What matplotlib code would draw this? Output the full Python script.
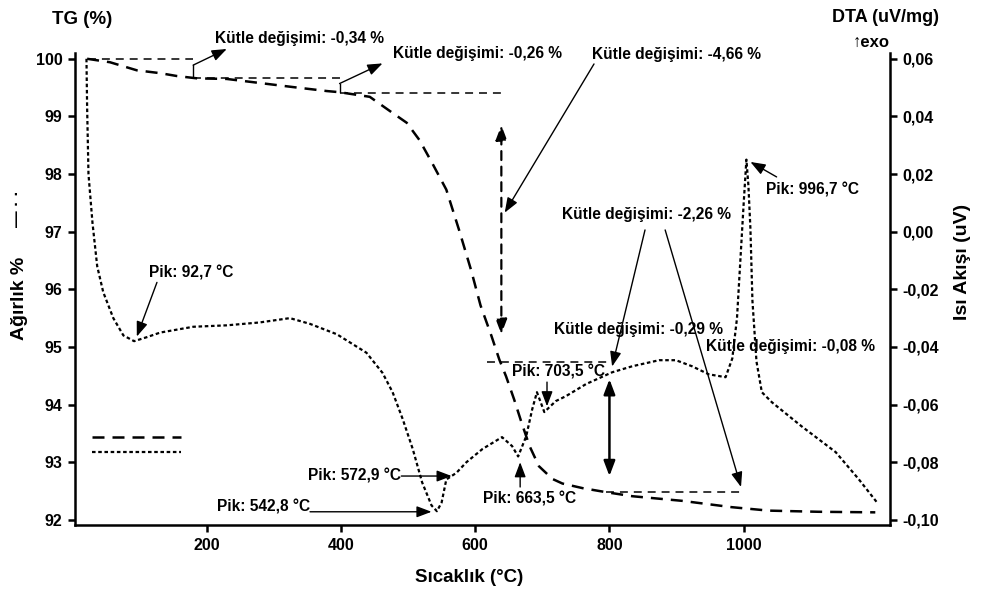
import matplotlib
matplotlib.use("Agg")
import matplotlib.pyplot as plt
from matplotlib.patches import ArrowStyle

plt.rcParams["font.family"] = ["Liberation Sans", "DejaVu Sans"]
plt.rcParams["font.weight"] = "bold"

# TG curve (left axis, %)
tg_temp = [22, 56, 96, 131, 156, 186, 230, 279, 328, 379, 398, 443, 477, 498, 517, 536, 557, 576, 594, 608,
           624, 636, 646, 658, 669, 681, 695, 715, 730, 760, 795, 834, 908, 982, 1037, 1111, 1196]
tg_mass = [100.0, 99.94, 99.80, 99.75, 99.70, 99.66, 99.65, 99.58, 99.51, 99.44, 99.42, 99.34, 99.06, 98.89,
           98.59, 98.19, 97.73, 97.03, 96.33, 95.72, 95.20, 94.78, 94.49, 94.09, 93.69, 93.28, 92.93, 92.71,
           92.63, 92.55, 92.48, 92.41, 92.33, 92.22, 92.16, 92.14, 92.13]

# DTA curve (right axis, uV/mg)
dta_temp = [21, 22, 24, 30, 37, 46, 61, 76, 92, 111, 131, 180, 230, 279, 324, 354, 394, 438, 462, 477,
            492, 507, 521, 535, 543, 550, 557, 572, 587, 611, 640, 655, 664, 676, 685, 692, 703, 720, 735, 765,
            804, 834, 874, 899, 923, 948, 973, 983, 990, 995, 1000, 1004, 1007, 1010, 1013, 1019, 1027, 1042,
            1086, 1137, 1171, 1198]
dta_signal = [0.060, 0.043, 0.020, 0.003, -0.012, -0.021, -0.030, -0.036, -0.038, -0.0366, -0.035, -0.033,
              -0.0325, -0.0315, -0.030, -0.032, -0.0356, -0.042, -0.049, -0.0557, -0.065, -0.0754, -0.087,
              -0.095, -0.097, -0.094, -0.086, -0.0837, -0.080, -0.0754, -0.0713, -0.0744, -0.078, -0.071,
              -0.0616, -0.0557, -0.0626, -0.0588, -0.0571, -0.0529, -0.0488, -0.0467, -0.0446, -0.0446,
              -0.0467, -0.0495, -0.0505, -0.044, -0.030, -0.010, 0.010, 0.025, 0.016, 0.001, -0.024, -0.045,
              -0.0557, -0.0592, -0.0675, -0.0765, -0.0858, -0.0938]

# mass-change reference levels (horizontal dashed guides)
step_level = [100.0, 99.66, 99.40, 94.74, 92.48]
step_from = [24, 180, 398, 618, 795]
step_to = [180, 398, 639, 804, 1000]

x_ticks = [200, 400, 600, 800, 1000]
left_ticks = [92, 93, 94, 95, 96, 97, 98, 99, 100]
right_ticks = [-0.10, -0.08, -0.06, -0.04, -0.02, 0.00, 0.02, 0.04, 0.06]
right_labels = ["-0,10", "-0,08", "-0,06", "-0,04", "-0,02", "0,00", "0,02", "0,04", "0,06"]

fig = plt.figure(figsize=(9.81, 5.95), dpi=100)
ax = fig.add_axes([0.0765, 0.1176, 0.8308, 0.7933])
ax2 = ax.twinx()

tg_line, = ax.plot(tg_temp, tg_mass, color="black", lw=1.8, linestyle=(0, (4.8, 3.2)))
dta_line, = ax2.plot(dta_temp, dta_signal, color="black", lw=1.6, linestyle=(0, (1.6, 1.2)))

for lev, a, b in zip(step_level, step_from, step_to):
    ax.plot([a, b], [lev, lev], color="black", lw=1.1, linestyle=(0, (5.2, 3.9)))

ax.set_xlim(4, 1218)
ax.set_ylim(91.91, 100.1)
ax2.set_ylim(-0.1018, 0.062)

ax.set_xticks(x_ticks)
ax.set_yticks(left_ticks)
ax2.set_yticks(right_ticks)
ax2.set_yticklabels(right_labels)

for a in (ax, ax2):
    a.spines["top"].set_visible(False)
    for s in a.spines.values():
        s.set_linewidth(1.8)
    a.tick_params(direction="out", length=5, width=1.8, labelsize=11.5, pad=4)
ax.spines["right"].set_visible(False)
ax2.spines["left"].set_visible(False)
ax2.spines["bottom"].set_visible(False)

ax.set_ylabel("Ağırlık %", fontsize=14, fontweight="bold")
ax.yaxis.set_label_coords(-0.058, 0.48)
ax2.set_ylabel("Isı Akışı (uV)", fontsize=14, fontweight="bold")
ax2.yaxis.set_label_coords(1.079, 0.557)
ax.set_xlabel("Sıcaklık (°C)", fontsize=13.5, fontweight="bold")
ax.xaxis.set_label_coords(0.483, -0.093)

fig.text(82 / 981, 1 - 19 / 595, "TG (%)", ha="center", va="center", fontsize=13.5)
fig.text(886 / 981, 1 - 17 / 595, "DTA (uV/mg)", ha="center", va="center", fontsize=13)
fig.text(871 / 981, 1 - 42 / 595, "↑exo", ha="center", va="center", fontsize=12)
fig.text(18 / 981, 1 - 208 / 595, "— · ·", ha="center", va="center", rotation=90, fontsize=12)

# annotation texts (left axis coordinates)
notes = [
    ("Kütle değişimi: -0,34 %", 212, 100.36),
    ("Kütle değişimi: -0,26 %", 477, 100.10),
    ("Kütle değişimi: -4,66 %", 774, 100.08),
    ("Kütle değişimi: -2,26 %", 730, 97.29),
    ("Kütle değişimi: -0,29 %", 718, 95.30),
    ("Kütle değişimi: -0,08 %", 944, 95.01),
    ("Pik: 92,7 °C", 114, 96.29),
    ("Pik: 572,9 °C", 351, 92.76),
    ("Pik: 542,8 °C", 215, 92.22),
    ("Pik: 663,5 °C", 611, 92.36),
    ("Pik: 703,5 °C", 655, 94.56),
    ("Pik: 996,7 °C", 1033, 97.73),
]
for txt, x, y in notes:
    ax.text(x, y, txt, ha="left", va="center", fontsize=11.2, clip_on=False, zorder=5)

head = ArrowStyle("-|>", head_length=0.45, head_width=0.17)
both = ArrowStyle("<|-|>", head_length=0.45, head_width=0.17)
# (tail, tip)
arrows = [
    ((180, 99.89), (230, 100.17)),
    ((398, 99.57), (462, 99.92)),
    ((777, 99.91), (644, 97.33)),
    ((853, 97.03), (804, 94.66)),
    ((883, 97.03), (996, 92.57)),
    ((126, 96.12), (96, 95.18)),
    ((490, 92.76), (565, 92.76)),
    ((354, 92.14), (535, 92.14)),
    ((667, 92.57), (667, 93.00)),
    ((707, 94.39), (707, 93.97)),
    ((1049, 97.95), (1010, 98.21)),
]
for tail, tip in arrows:
    ax.annotate("", xy=tip, xytext=tail, annotation_clip=False,
                arrowprops=dict(arrowstyle=head, color="black", lw=1.0, shrinkA=0, shrinkB=0,
                                mutation_scale=20))

# vertical double arrows
ax.annotate("", xy=(800, 94.44), xytext=(800, 92.76),
            arrowprops=dict(arrowstyle=both, color="black", lw=1.8, shrinkA=0, shrinkB=0, mutation_scale=20))
ax.annotate("", xy=(639, 98.85), xytext=(639, 95.22),
            arrowprops=dict(arrowstyle=both, color="black", lw=1.6, linestyle=(0, (4, 3)),
                            shrinkA=0, shrinkB=0, mutation_scale=20))

# small ticks at arrow tails
for x, y0, y1 in [(180, 99.70, 99.89), (398, 99.42, 99.57)]:
    ax.plot([x, x], [y0, y1], color="black", lw=1.0)

ax.legend(handles=[tg_line, dta_line], labels=["", ""], loc="upper left", bbox_to_anchor=(0.021, 0.2),
          frameon=False, handlelength=6.4, handletextpad=0, borderpad=0, borderaxespad=0,
          labelspacing=0.12, fontsize=10)

fig.savefig("out.png", dpi=100)
